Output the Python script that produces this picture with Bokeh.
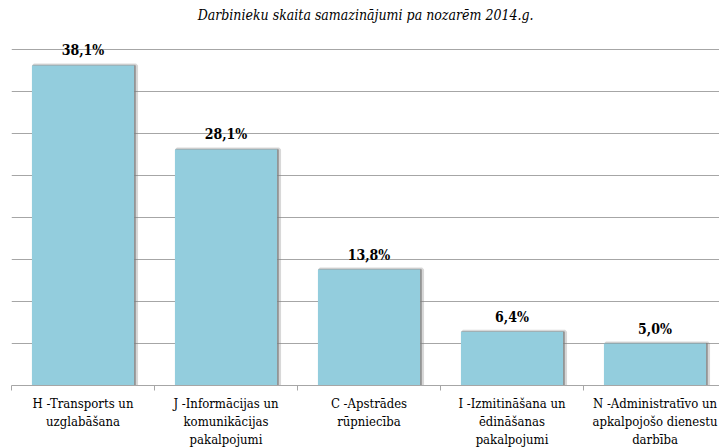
from bokeh.plotting import figure
from bokeh.models import Range1d, FixedTicker, ColumnDataSource, Label
from bokeh.transform import dodge
from bokeh.core.properties import value
from bokeh.embed import file_html
from bokeh.resources import INLINE

title_text = "Darbinieku skaita samazinājumi pa nozarēm 2014.g."
categories = [
    "H -Transports un\nuzglabāšana",
    "J -Informācijas un\nkomunikācijas\npakalpojumi",
    "C -Apstrādes\nrūpniecība",
    "I -Izmitināšana un\nēdināšanas\npakalpojumi",
    "N -Administratīvo un\napkalpojošo dienestu\ndarbība",
]
values = [38.1, 28.1, 13.8, 6.4, 5.0]
value_labels = ["38,1%", "28,1%", "13,8%", "6,4%", "5,0%"]
y_ticks = [0, 5, 10, 15, 20, 25, 30, 35, 40]

centers = [i + 0.5 for i in range(len(categories))]
bounds = [i for i in range(len(categories) + 1)]

src = ColumnDataSource(dict(x=centers, top=values, lab=value_labels))

SERIF = "DejaVu Serif Condensed"
BAR = "#93CDDD"
GRID = "#A6A6A6"

p = figure(
    x_range=Range1d(0, 4.951), y_range=Range1d(0, 45),
    frame_width=708, frame_height=378,
    min_border_left=11, min_border_right=0, min_border_top=7, min_border_bottom=62,
    output_backend="svg", toolbar_location=None,
)
p.outline_line_color = None
p.background_fill_color = "white"
p.border_fill_color = "white"

p.xgrid.visible = False
p.yaxis.visible = False
p.ygrid.ticker = FixedTicker(ticks=y_ticks)
p.ygrid.grid_line_color = GRID
p.ygrid.grid_line_width = 1

ax = p.xaxis[0]
ax.ticker = FixedTicker(ticks=centers, minor_ticks=bounds)
ax.major_label_overrides = {c: lab for c, lab in zip(centers, categories)}
ax.major_tick_line_color = None
ax.major_tick_in = 0
ax.major_tick_out = 4
ax.minor_tick_line_color = GRID
ax.minor_tick_in = 0
ax.minor_tick_out = 5
ax.axis_line_color = GRID
ax.major_label_standoff = 5
ax.major_label_text_font = SERIF
ax.major_label_text_font_size = "13px"
ax.major_label_text_color = "#000000"

p.vbar(x=dodge("x", 0.014), top="top", width=0.714, bottom=0, source=src,
       fill_color="#7f7f7f", fill_alpha=0.35, line_color="#7f7f7f", line_alpha=0.3, line_width=4)
p.vbar(x=dodge("x", 0.007), top="top", width=0.714, bottom=0, source=src,
       fill_color="#7f7f7f", fill_alpha=0.5, line_color="#7f7f7f", line_alpha=0.45, line_width=1.5)
p.vbar(x="x", top="top", width=0.714, bottom=0, source=src,
       fill_color=BAR, line_color=None)

p.text(x="x", y="top", text="lab", source=src, y_offset=-7,
       text_align="center", text_baseline="bottom",
       text_font=value(SERIF), text_font_style="bold", text_font_size="14px",
       text_color="#000000")

p.add_layout(Label(x=2.476, y=44.05, text=title_text, text_align="center",
                   text_baseline="middle", text_font=SERIF, text_font_style="italic",
                   text_font_size="14px", text_color="#000000"))

open("out.html", "w").write(file_html(p, INLINE))
